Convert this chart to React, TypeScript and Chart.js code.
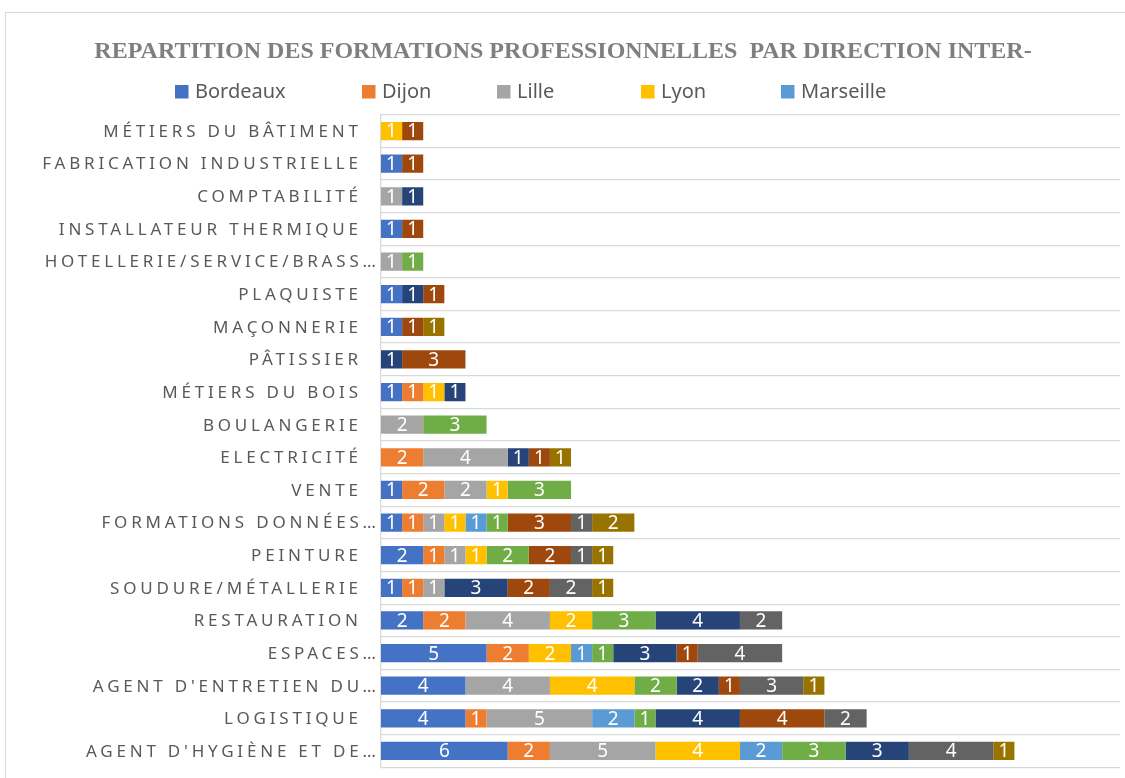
import React, { useEffect, useRef } from "react";
import { Chart, registerables } from "chart.js";

Chart.register(...registerables);

const TITLE = "REPARTITION DES FORMATIONS PROFESSIONNELLES  PAR DIRECTION INTER-";

const categories = [
  "MÉTIERS DU BÂTIMENT",
  "FABRICATION INDUSTRIELLE",
  "COMPTABILITÉ",
  "INSTALLATEUR THERMIQUE",
  "HOTELLERIE/SERVICE/BRASS…",
  "PLAQUISTE",
  "MAÇONNERIE",
  "PÂTISSIER",
  "MÉTIERS DU BOIS",
  "BOULANGERIE",
  "ELECTRICITÉ",
  "VENTE",
  "FORMATIONS DONNÉES…",
  "PEINTURE",
  "SOUDURE/MÉTALLERIE",
  "RESTAURATION",
  "ESPACES…",
  "AGENT D'ENTRETIEN DU…",
  "LOGISTIQUE",
  "AGENT D'HYGIÈNE ET DE…",
];

const seriesNames = [
  "Bordeaux",
  "Dijon",
  "Lille",
  "Lyon",
  "Marseille",
  "Paris",
  "Rennes",
  "Strasbourg",
  "Toulouse",
  "Outre-mer",
];

const seriesColors = [
  "#4472C4",
  "#ED7D31",
  "#A5A5A5",
  "#FFC000",
  "#5B9BD5",
  "#70AD47",
  "#264478",
  "#9E480E",
  "#636363",
  "#997300",
];

const bordeaux = [0, 1, 0, 1, 0, 1, 1, 0, 1, 0, 0, 1, 1, 2, 1, 2, 5, 4, 4, 6];
const dijon = [0, 0, 0, 0, 0, 0, 0, 0, 1, 0, 2, 2, 1, 1, 1, 2, 2, 0, 1, 2];
const lille = [0, 0, 1, 0, 1, 0, 0, 0, 0, 2, 4, 2, 1, 1, 1, 4, 0, 4, 5, 5];
const lyon = [1, 0, 0, 0, 0, 0, 0, 0, 1, 0, 0, 1, 1, 1, 0, 2, 2, 4, 0, 4];
const marseille = [0, 0, 0, 0, 0, 0, 0, 0, 0, 0, 0, 0, 1, 0, 0, 0, 1, 0, 2, 2];
const paris = [0, 0, 0, 0, 1, 0, 0, 0, 0, 3, 0, 3, 1, 2, 0, 3, 1, 2, 1, 3];
const rennes = [0, 0, 1, 0, 0, 1, 0, 1, 1, 0, 1, 0, 0, 0, 3, 4, 3, 2, 4, 3];
const strasbourg = [1, 1, 0, 1, 0, 1, 1, 3, 0, 0, 1, 0, 3, 2, 2, 0, 1, 1, 4, 0];
const toulouse = [0, 0, 0, 0, 0, 0, 0, 0, 0, 0, 0, 0, 1, 1, 2, 2, 4, 3, 2, 4];
const outreMer = [0, 0, 0, 0, 0, 0, 1, 0, 0, 0, 1, 0, 2, 1, 1, 0, 0, 1, 0, 1];

const seriesValues = [bordeaux, dijon, lille, lyon, marseille, paris, rennes, strasbourg, toulouse, outreMer];

const legendShown = 5;
const xMax = 35;

const LABEL_FONT = '"Noto Sans", "Open Sans", sans-serif';

const yLabelPlugin = {
  id: "yLabelPlugin",
  afterDraw(chart: any) {
    const ctx = chart.ctx;
    const yScale = chart.scales.y;
    const spacing = 3.8;
    ctx.save();
    ctx.font = `17px ${LABEL_FONT}`;
    ctx.fillStyle = "#595959";
    ctx.textAlign = "right";
    ctx.textBaseline = "middle";
    (ctx as any).letterSpacing = `${spacing}px`;
    const xRight = chart.chartArea.left - 23 + spacing;
    chart.data.labels.forEach((lab: string, i: number) => {
      const y = yScale.getPixelForValue(i);
      const shift = lab.endsWith("…") ? 18 : 0;
      ctx.fillText(lab, xRight + shift, y + 1);
    });
    ctx.restore();
  },
};

const barLabelPlugin = {
  id: "barLabelPlugin",
  afterDatasetsDraw(chart: any) {
    const ctx = chart.ctx;
    ctx.save();
    ctx.font = `19px ${LABEL_FONT}`;
    ctx.fillStyle = "#FFFFFF";
    ctx.textAlign = "center";
    ctx.textBaseline = "middle";
    chart.data.datasets.forEach((ds: any, di: number) => {
      const meta = chart.getDatasetMeta(di);
      meta.data.forEach((el: any, i: number) => {
        const v = ds.data[i];
        if (v == null || v <= 0) return;
        const cx = (el.x + el.base) / 2;
        ctx.fillText(String(v), cx, el.y + 1);
      });
    });
    ctx.restore();
  },
};

const legendPlugin = {
  id: "customLegend",
  afterDraw(chart: any) {
    const ctx = chart.ctx;
    const boxLefts = [169, 356, 491, 635, 775];
    const yc = 78.5;
    ctx.save();
    ctx.font = `20px ${LABEL_FONT}`;
    ctx.textAlign = "left";
    ctx.textBaseline = "middle";
    for (let i = 0; i < legendShown; i++) {
      const ds = chart.data.datasets[i];
      const x = boxLefts[i];
      ctx.fillStyle = ds.backgroundColor;
      ctx.fillRect(x, yc - 6.5, 13.5, 13.5);
      ctx.fillStyle = "#595959";
      ctx.fillText(ds.label, x + 20, yc + 1);
    }
    ctx.restore();
  },
};

export default function App() {
  const canvasRef = useRef<HTMLCanvasElement | null>(null);

  useEffect(() => {
    document.body.style.overflow = "hidden";
    const canvas = canvasRef.current;
    if (!canvas) return;
    const chart = new Chart(canvas, {
      type: "bar",
      data: {
        labels: categories,
        datasets: seriesNames.map((name, i) => ({
          label: name,
          data: seriesValues[i].map((v) => (v > 0 ? v : null)),
          backgroundColor: seriesColors[i],
          borderWidth: 0,
          barPercentage: 0.56,
          categoryPercentage: 1,
        })),
      },
      options: {
        indexAxis: "y",
        responsive: false,
        animation: false,
        maintainAspectRatio: false,
        layout: { padding: { left: 0, right: 5, top: 0, bottom: 10.7 } },
        plugins: {
          legend: { display: false },
          tooltip: { enabled: false },
          title: {
            display: true,
            text: TITLE,
            color: "#7F7F7F",
            font: { family: '"Liberation Serif", "Times New Roman", serif', size: 24, weight: "bold", lineHeight: 1.2 },
            padding: { top: 24.6, bottom: 48.3 },
          },
        },
        scales: {
          x: {
            stacked: true,
            display: false,
            min: 0,
            max: xMax,
          },
          y: {
            stacked: true,
            ticks: { display: false },
            grid: { color: "#D9D9D9", lineWidth: 1.3, drawTicks: false, offset: true },
            border: { display: true, color: "#D9D9D9", width: 1.3 },
            afterFit: (s: any) => {
              s.width = 375;
            },
          },
        },
      } as any,
      plugins: [yLabelPlugin, barLabelPlugin, legendPlugin],
    });
    return () => chart.destroy();
  }, []);

  return (
    <div
      style={{
        position: "absolute",
        left: 5,
        top: 12,
        width: 1120,
        height: 766,
        borderLeft: "1px solid #D9D9D9",
        borderTop: "1px solid #D9D9D9",
        boxSizing: "border-box",
        background: "#FFFFFF",
      }}
    >
      <canvas ref={canvasRef} width={1119} height={765} style={{ display: "block", width: 1119, height: 765 }} />
    </div>
  );
}
